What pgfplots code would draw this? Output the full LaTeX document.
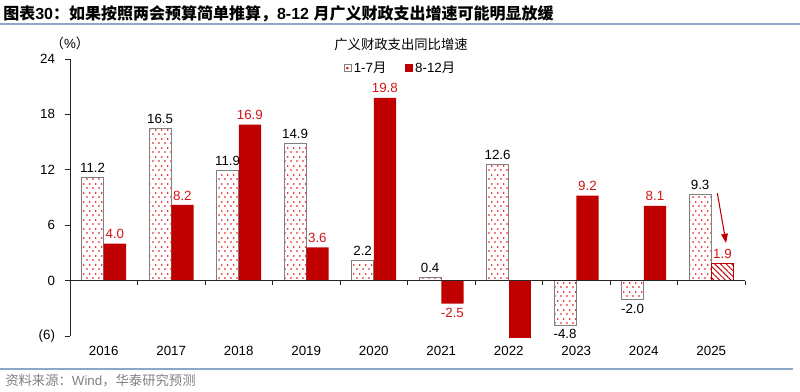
\documentclass[border=0pt]{standalone}
\usepackage{fontspec}
\setmainfont{Liberation Sans}
\newfontfamily\cjk{Noto Sans CJK SC}
\usepackage{pgfplots}
\usepackage{pgfplotstable}
\pgfplotsset{compat=1.18}
\usetikzlibrary{patterns,patterns.meta,arrows.meta}
\definecolor{dred}{RGB}{192,0,0}
\definecolor{lred}{RGB}{210,20,20}
\definecolor{dotred}{RGB}{230,0,0}
\definecolor{lineblue}{RGB}{140,168,200}
\definecolor{srcgray}{RGB}{128,128,128}
\pgfdeclarepatternformonly{reddots}{\pgfqpoint{0pt}{0pt}}{\pgfqpoint{4.3pt}{6.4pt}}{\pgfqpoint{4.3pt}{6.4pt}}{%
 \pgfpathcircle{\pgfqpoint{0.8pt}{0.8pt}}{0.68pt}%
 \pgfpathcircle{\pgfqpoint{2.95pt}{4pt}}{0.68pt}%
 \pgfusepath{fill}}

\pgfplotstableread{
x a
0 11.2
1 16.5
2 11.9
3 14.9
4 2.2
5 0.4
6 12.6
7 -4.8
8 -2.0
9 9.3
}\janjul

\pgfplotstableread{
x b
0 4.0
1 8.2
2 16.9
3 3.6
4 19.8
5 -2.5
7 9.2
8 8.1
}\augdec

\pgfplotstableread{
x b
6 -6.2
}\augdecnolabel

\pgfplotstableread{
x b
9 1.9
}\augdecfcst

\begin{document}
\begin{tikzpicture}
\path[use as bounding box] (-52.5pt,-42pt) rectangle (547.5pt,252pt);
\begin{axis}[
  at={(0pt,0pt)}, anchor=south west,
  scale only axis, width=506.25pt, height=207.75pt,
  xmin=-0.5, xmax=9.5, ymin=-6, ymax=24,
  ybar, bar width=0.33,
  axis y line*=left, axis x line*=bottom,
  x axis line style={draw=none},
  y axis line style={-, line width=0.6pt, color=black!85},
  xtick={0,1,2,3,4,5,6,7,8,9},
  xticklabels={2016,2017,2018,2019,2020,2021,2022,2023,2024,2025},
  ytick={-6,0,6,12,18,24}, yticklabels={(6),0,6,12,18,24},
  yticklabel style={xshift=-4pt},
  major x tick style={draw=none},
  y tick style={line width=0.6pt, color=black!85},
  tick align=outside, major tick length=3.75pt,
  ticklabel style={font=\fontsize{10}{12}\selectfont},
  clip=false,
  legend columns=2,
  legend style={at={(0.49,0.967)}, anchor=center, draw=none, fill=none,
    font=\fontsize{10}{12}\selectfont,
    /tikz/every even column/.append style={column sep=12pt}},
  /pgf/number format/.cd, fixed, fixed zerofill, precision=1, assume math mode=true,
]
\addplot[draw=gray, line width=0.4pt, pattern=reddots, pattern color=dotred, bar shift=-0.165,
  nodes near coords, nodes near coords style={text=black, font=\fontsize{10}{12}\selectfont},
  legend image code/.code={\draw[gray,fill=white,line width=0.4pt] (0pt,-2.6pt) rectangle (5.2pt,2.6pt); \fill[dotred] (2.6pt,0pt) circle (0.7pt);}]
  table[x=x,y=a] {\janjul};
\addlegendentry{1-7{\cjk 月}}
\addplot[draw=none, fill=dred, bar shift=0.165,
  nodes near coords, nodes near coords style={text=lred, font=\fontsize{10}{12}\selectfont},
  legend image code/.code={\fill[dred] (0pt,-2.8pt) rectangle (5.6pt,2.8pt);}]
  table[x=x,y=b] {\augdec};
\addlegendentry{8-12{\cjk 月}}
\addplot[draw=none, fill=dred, bar shift=0.165, forget plot]
  table[x=x,y=b] {\augdecnolabel};
\addplot[draw=dred, line width=0.4pt, pattern={Lines[angle=-45,distance=3pt,line width=0.7pt]}, pattern color=dred, bar shift=0.165, forget plot,
  nodes near coords, nodes near coords style={text=lred, font=\fontsize{10}{12}\selectfont}]
  table[x=x,y=b] {\augdecfcst};
\draw[black!85, line width=0.6pt] (axis cs:-0.5,0) -- (axis cs:9.5,0);
\pgfplotsinvokeforeach{0.5,1.5,2.5,3.5,4.5,5.5,6.5,7.5,8.5,9.5}{
  \draw[black!85, line width=0.6pt] (axis cs:#1,0) -- ++(0pt,-3.5pt);
}
\draw[dred, line width=0.8pt, -{Triangle[length=7pt,width=5pt]}] (axis cs:9.09,9.48) -- (axis cs:9.22,4.06);
\end{axis}
% titles and decorations
\node[anchor=west, inner sep=0pt] at (-50.25pt,241.5pt) {\fontsize{12}{14}\selectfont\bfseries{\cjk 图表}30{\cjk ：如果按照两会预算简单推算，}8-12 {\cjk 月广义财政支出增速可能明显放缓}};
\draw[lineblue, line width=1.2pt] (-52.5pt,234pt) -- (547.5pt,234pt);
\node[inner sep=0pt] at (248.25pt,219pt) {\fontsize{10}{12}\selectfont\cjk 广义财政支出同比增速};
\node[inner sep=0pt] at (0pt,219.75pt) {\fontsize{10}{12}\selectfont{\cjk （}\%{\cjk ）}};
\draw[lineblue, line width=1pt] (-52.5pt,-24.75pt) -- (542.25pt,-24.75pt);
\node[anchor=west, inner sep=0pt, text=srcgray] at (-48.75pt,-33.75pt) {\fontsize{10}{12}\selectfont{\cjk 资料来源：}Wind{\cjk ，华泰研究预测}};
\end{tikzpicture}
\end{document}
